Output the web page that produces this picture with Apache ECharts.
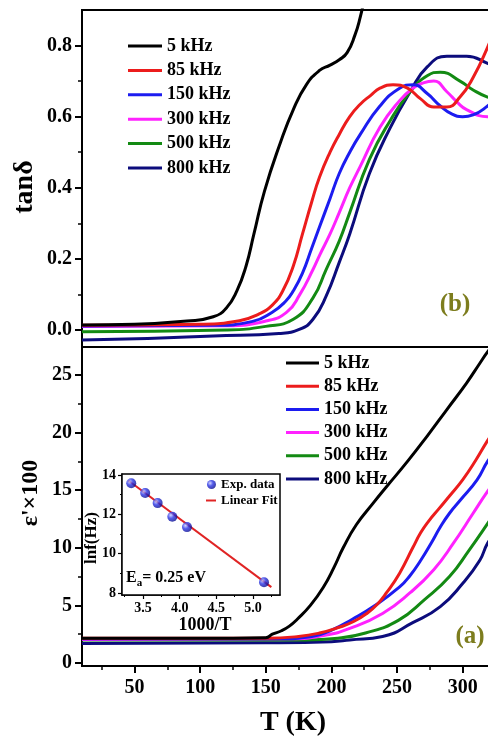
<!DOCTYPE html>
<html>
<head>
<meta charset="utf-8">
<script src="https://cdn.jsdelivr.net/npm/echarts@6/dist/echarts.min.js"></script>
<style>
  html, body { margin: 0; padding: 0; overflow: hidden; background: #fff; }
  #chart { width: 506px; height: 738px; }
</style>
</head>
<body>
<div id="chart"></div>
<script>
// frequencies (legend order) and their line colours
const freqs = ['5 kHz', '85 kHz', '150 kHz', '300 kHz', '500 kHz', '800 kHz'];
const colors = ['#000000', '#ec1c1c', '#1c1cf0', '#ff22ff', '#138a13', '#0c0c7c'];

// (b) tanδ vs T
const tan5 = [[10,0.014],[50,0.016],[90,0.025],[110,0.037],[120,0.062],[128,0.11],[135,0.18],[141,0.27],[149,0.39],[161,0.525],[171,0.62],[181,0.69],[191,0.73],[199,0.745],[206,0.76],[212,0.78],[218,0.83],[222,0.88],[225,0.93]];
const tan85 = [[10,0.013],[100,0.016],[130,0.026],[145,0.045],[155,0.07],[163,0.11],[171,0.18],[178,0.27],[185,0.36],[191,0.43],[199,0.5],[206,0.55],[214,0.6],[222,0.635],[230,0.66],[237,0.68],[247,0.69],[258,0.68],[268,0.65],[278,0.627],[288,0.627],[298,0.655],[308,0.71],[319,0.795],[326,0.86],[330,0.9]];
const tan150 = [[10,0.011],[110,0.013],[140,0.024],[155,0.05],[165,0.08],[171,0.11],[178,0.16],[185,0.23],[191,0.29],[199,0.37],[206,0.44],[214,0.5],[222,0.55],[237,0.63],[252,0.68],[262,0.69],[273,0.665],[283,0.63],[292,0.607],[300,0.6],[308,0.605],[319,0.63],[330,0.665]];
const tan300 = [[10,0.01],[120,0.012],[150,0.025],[166,0.05],[176,0.1],[186,0.17],[191,0.21],[199,0.27],[206,0.33],[214,0.4],[222,0.46],[237,0.57],[252,0.645],[262,0.68],[270,0.695],[278,0.7],[288,0.67],[296,0.64],[303,0.62],[319,0.6],[330,0.6]];
const tan500 = [[10,-0.005],[120,0.0],[150,0.01],[171,0.03],[186,0.09],[196,0.17],[206,0.25],[214,0.33],[229,0.48],[245,0.59],[260,0.67],[273,0.715],[283,0.725],[298,0.7],[308,0.675],[319,0.655],[330,0.645]];
const tan800 = [[10,-0.028],[60,-0.024],[110,-0.017],[160,-0.01],[176,0.002],[186,0.03],[196,0.095],[206,0.19],[214,0.27],[229,0.44],[245,0.57],[260,0.67],[273,0.74],[288,0.77],[303,0.77],[319,0.75],[330,0.73]];

// (a) ε'×100 vs T
const eps5 = [[10,2.15],[100,2.15],[150,2.2],[155,2.5],[162,2.8],[168,3.2],[174,3.8],[184,5.0],[194,6.6],[202,8.3],[209,10.0],[219,12.0],[232,13.9],[242,15.3],[258,17.5],[273,19.7],[288,22.0],[303,24.3],[313,26.0],[319,27.0],[330,28.6]];
const eps85 = [[10,2.15],[150,2.15],[175,2.3],[191,2.6],[206,3.1],[217,3.6],[227,4.3],[235,5.1],[242,6.1],[252,7.8],[262,10.0],[268,11.3],[274,12.3],[282,13.4],[290,14.5],[300,15.9],[310,17.6],[319,19.3],[330,21.2]];
const eps150 = [[10,2.1],[160,2.1],[185,2.3],[201,2.9],[216,3.8],[232,4.9],[252,6.6],[260,7.6],[268,8.9],[276,10.4],[283,11.8],[290,13.0],[298,14.1],[311,15.9],[319,17.5],[330,19.2]];
const eps300 = [[10,2.05],[170,2.1],[195,2.4],[214,3.0],[239,4.3],[260,6.1],[278,8.1],[293,10.4],[308,13.0],[319,14.9],[330,16.6]];
const eps500 = [[10,2.0],[180,2.0],[205,2.15],[226,2.6],[251,3.7],[271,5.5],[290,7.5],[305,9.8],[319,12.1],[330,14.0]];
const eps800 = [[10,1.7],[150,1.75],[200,1.85],[214,2.0],[239,2.3],[262,3.5],[283,4.9],[300,6.9],[313,8.9],[319,10.4],[330,12.3]];

// inset: Arrhenius plot
const invT = [3.34, 3.53, 3.70, 3.90, 4.10, 5.15];
const lnF = [13.58, 13.08, 12.57, 11.88, 11.35, 8.55];
const fitX = [3.30, 5.25];
const fitY = [13.72, 8.30];

// tick positions
const tTicks = [50, 100, 150, 200, 250, 300];
const tMinor = [25, 75, 125, 175, 225, 275, 325];
const tanTicks = [0, 0.2, 0.4, 0.6, 0.8];
const tanMinor = [0.1, 0.3, 0.5, 0.7];
const epsTicks = [0, 5, 10, 15, 20, 25];
const epsMinor = [2.5, 7.5, 12.5, 17.5, 22.5];
const inXTicks = [3.5, 4.0, 4.5, 5.0];
const inXMinor = [3.25, 3.75, 4.25, 4.75, 5.25];
const inYTicks = [8, 10, 12, 14];
const inYMinor = [9, 11, 13];

const tanData = [tan5, tan85, tan150, tan300, tan500, tan800];
const epsData = [eps5, eps85, eps150, eps300, eps500, eps800];

const FONT = "'Liberation Serif', 'DejaVu Serif', serif";
const OLIVE = '#7d7d1e';

// axis ranges per grid: [xmin, xmax, ymin, ymax]
const RANGE = [
  [10, 330, -0.048, 0.9],
  [10, 330, -0.26, 27.43],
  [3.214, 5.368, 7.9, 14.05],
];

const chart = echarts.init(document.getElementById('chart'), null, { renderer: 'canvas' });

// 轴：刻度和标签都用 customValues（min 不是整刻度）
function axis(g, dim, ticks, labels, opt = {}) {
  const r = RANGE[g];
  return {
    type: 'value',
    gridIndex: g,
    position: dim === 'x' ? 'bottom' : 'left',
    min: dim === 'x' ? r[0] : r[2],
    max: dim === 'x' ? r[1] : r[3],
    splitLine: { show: false },
    axisLine: { show: opt.line !== false, onZero: false, lineStyle: { color: '#000', width: opt.lw || 2 } },
    axisTick: ticks
      ? { show: true, customValues: ticks, length: opt.tl || 7, lineStyle: { color: '#000', width: opt.tw || 2 } }
      : { show: false },
    axisLabel: labels
      ? {
          show: true, customValues: labels, margin: opt.margin || 10,
          color: '#000', fontFamily: FONT, fontWeight: 'bold', fontSize: opt.fs || 20,
          formatter: opt.fmt || (v => String(v)),
        }
      : { show: false },
  };
}

const series = [];
freqs.forEach((name, i) => {
  series.push({
    name, type: 'line', xAxisIndex: 0, yAxisIndex: 0,
    data: tanData[i], symbol: 'none', smooth: 0.5,
    lineStyle: { width: 3, color: colors[i] }, itemStyle: { color: colors[i] },
    z: 10 - i,
  });
  series.push({
    name, type: 'line', xAxisIndex: 1, yAxisIndex: 2,
    data: epsData[i], symbol: 'none', smooth: 0.5,
    lineStyle: { width: 3, color: colors[i] }, itemStyle: { color: colors[i] },
    z: 10 - i,
  });
});

const ball = new echarts.graphic.RadialGradient(0.35, 0.35, 0.7, [
  { offset: 0, color: '#c8ccff' },
  { offset: 0.45, color: '#2a34e6' },
  { offset: 1, color: '#0a0c8a' },
]);

series.push({
  name: 'Linear Fit', type: 'line', xAxisIndex: 3, yAxisIndex: 4,
  data: fitX.map((x, i) => [x, fitY[i]]), symbol: 'none',
  lineStyle: { width: 2, color: '#e02424' }, itemStyle: { color: '#e02424' }, z: 20,
});
series.push({
  name: 'Exp. data', type: 'scatter', xAxisIndex: 3, yAxisIndex: 4,
  data: invT.map((x, i) => [x, lnF[i]]), symbolSize: 10,
  itemStyle: { color: ball }, z: 21,
});

const legendText = { color: '#000', fontFamily: FONT, fontWeight: 'bold', fontSize: 18, lineHeight: 18 };
const insetText = { color: '#000', fontFamily: FONT, fontWeight: 'bold', fontSize: 13, lineHeight: 13 };

const texts = [
  { type: 'text', x: 25, y: 187, rotation: Math.PI / 2, style: { text: 'tanδ', font: `bold 28px ${FONT}`, fill: '#000', textAlign: 'center', textVerticalAlign: 'middle' } },
  { type: 'text', x: 31, y: 493, rotation: Math.PI / 2, style: { text: "ε'×100", font: `bold 24px ${FONT}`, fill: '#000', textAlign: 'center', textVerticalAlign: 'middle' } },
  { type: 'text', x: 293, y: 723, style: { text: 'T (K)', font: `bold 28px ${FONT}`, fill: '#000', textAlign: 'center', textVerticalAlign: 'middle' } },
  { type: 'text', x: 455, y: 305, style: { text: '(b)', font: `bold 25px ${FONT}`, fill: OLIVE, textAlign: 'center', textVerticalAlign: 'middle' } },
  { type: 'text', x: 470, y: 637, style: { text: '(a)', font: `bold 25px ${FONT}`, fill: OLIVE, textAlign: 'center', textVerticalAlign: 'middle' } },
  { type: 'text', x: 92, y: 538, rotation: Math.PI / 2, z: 30, style: { text: 'lnf(Hz)', font: `bold 17px ${FONT}`, fill: '#000', textAlign: 'center', textVerticalAlign: 'middle' } },
  { type: 'text', x: 205, y: 625, z: 30, style: { text: '1000/T', font: `bold 18px ${FONT}`, fill: '#000', textAlign: 'center', textVerticalAlign: 'middle' } },
  {
    type: 'text', x: 126, y: 578, z: 30,
    style: {
      text: '{e|E}{s|a}{e|= 0.25 eV}', textVerticalAlign: 'middle', fill: '#000',
      rich: {
        e: { fontFamily: FONT, fontWeight: 'bold', fontSize: 16, fill: '#000' },
        s: { fontFamily: FONT, fontWeight: 'bold', fontSize: 11, fill: '#000', padding: [10, 0, 0, 0] },
      },
    },
  },
];

chart.setOption({
  animation: false,
  backgroundColor: '#fff',
  grid: [
    { left: 82, top: 10, width: 420, height: 337, show: true, borderColor: '#000', borderWidth: 2, backgroundColor: 'transparent', outerBoundsMode: 'none' },
    { left: 82, top: 347, width: 420, height: 319, show: true, borderColor: '#000', borderWidth: 2, backgroundColor: 'transparent', outerBoundsMode: 'none' },
    { left: 122, top: 474, width: 158, height: 121, show: true, borderColor: '#000', borderWidth: 1.5, backgroundColor: '#fff', outerBoundsMode: 'none', z: 5 },
  ],
  xAxis: [
    axis(0, 'x', null, null),
    axis(1, 'x', tTicks, tTicks, { margin: 12 }),
    axis(1, 'x', tMinor, null, { line: false, tl: 4, tw: 1.5 }),
    axis(2, 'x', inXTicks, inXTicks, { lw: 1.5, tl: 4, tw: 1.2, fs: 14, margin: 6, fmt: v => v.toFixed(1) }),
    axis(2, 'x', inXMinor, null, { line: false, tl: 2, tw: 1 }),
  ],
  yAxis: [
    axis(0, 'y', tanTicks, tanTicks, { fmt: v => v.toFixed(1) }),
    axis(0, 'y', tanMinor, null, { line: false, tl: 4, tw: 1.5 }),
    axis(1, 'y', epsTicks, epsTicks),
    axis(1, 'y', epsMinor, null, { line: false, tl: 4, tw: 1.5 }),
    axis(2, 'y', inYTicks, inYTicks, { lw: 1.5, tl: 4, tw: 1.2, fs: 14, margin: 6 }),
    axis(2, 'y', inYMinor, null, { line: false, tl: 2, tw: 1 }),
  ],
  legend: [
    {
      data: freqs, orient: 'vertical', left: 128, top: 37, itemGap: 6.4, padding: 0,
      icon: 'rect', itemWidth: 34, itemHeight: 3, selectedMode: false, textStyle: legendText,
    },
    {
      data: freqs, orient: 'vertical', left: 286, top: 354, itemGap: 5.2, padding: 0,
      icon: 'rect', itemWidth: 33, itemHeight: 3, selectedMode: false, textStyle: legendText,
    },
    {
      data: ['Exp. data'], left: 207, top: 478, padding: 0, z: 30, icon: 'circle', itemWidth: 9, itemHeight: 9,
      selectedMode: false, textStyle: insetText,
    },
    {
      data: ['Linear Fit'], left: 206, top: 494, padding: 0, z: 30, icon: 'rect', itemWidth: 10, itemHeight: 2,
      selectedMode: false, textStyle: insetText,
    },
  ],
  graphic: texts,
  series,
});
</script>
</body>
</html>
